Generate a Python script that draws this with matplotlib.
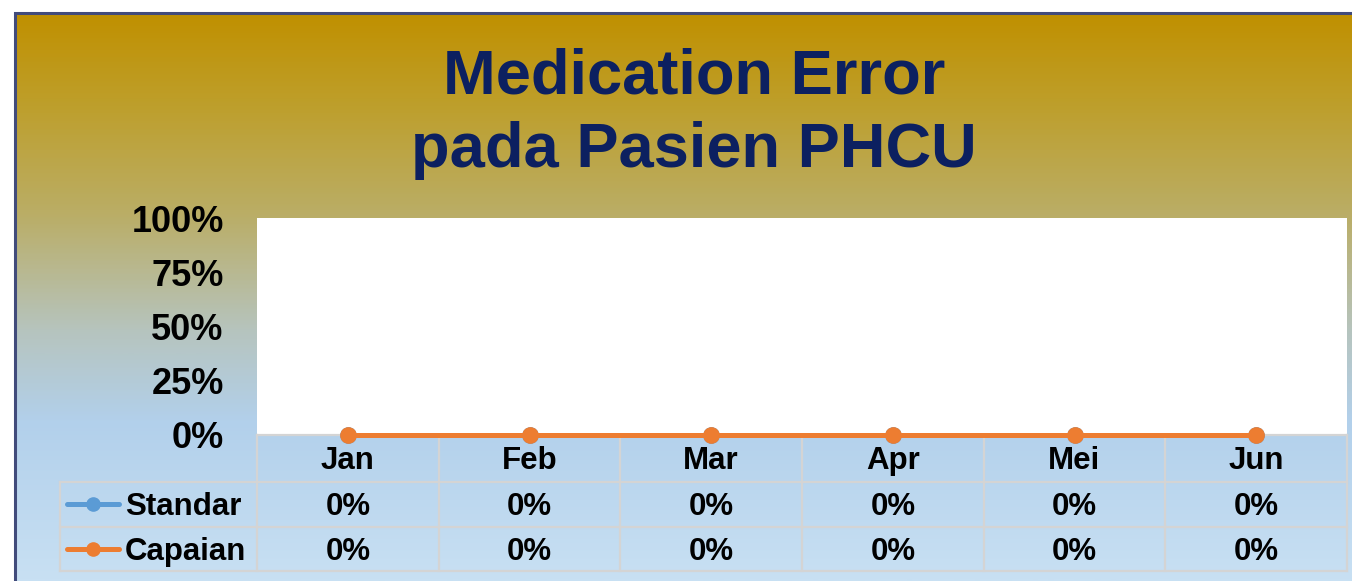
import numpy as np
import matplotlib
matplotlib.use("Agg")
import matplotlib.pyplot as plt
from matplotlib.colors import LinearSegmentedColormap

months = ["Jan", "Feb", "Mar", "Apr", "Mei", "Jun"]
standar = [0, 0, 0, 0, 0, 0]
capaian = [0, 0, 0, 0, 0, 0]
series_names = ["Standar", "Capaian"]
series_colors = ["#5b9bd5", "#ed7d31"]
yticks = [0, 0.25, 0.5, 0.75, 1.0]

FONT = ["Liberation Sans", "DejaVu Sans"]
W, H = 1352, 581

fig = plt.figure(figsize=(W / 100, H / 100), dpi=100, facecolor="white")

# gradient background of the chart frame
bg = fig.add_axes([14 / W, 0, 1 - 14 / W, 1 - 12 / H])
bg.set_axis_off()
stops = [(0.0, (192, 144, 0)), (0.15, (190, 158, 40)), (0.36, (186, 174, 104)),
         (0.56, (182, 196, 190)), (0.72, (178, 208, 235)), (1.0, (200, 224, 243))]
cmap = LinearSegmentedColormap.from_list(
    "bg", [(p, tuple(c / 255 for c in col)) for p, col in stops])
grad = np.linspace(0, 1, 400).reshape(-1, 1)
bg.imshow(grad, aspect="auto", cmap=cmap, extent=[0, 1, 1, 0])
bg.set_xlim(0, 1)
bg.set_ylim(1, 0)

# frame border on the left and top
fig.add_artist(plt.Line2D([15 / W, 15 / W, 1], [0, 1 - 13 / H, 1 - 13 / H],
                          color="#414b7b", lw=2.2, solid_joinstyle="miter"))

# title
fig.text(694 / W, 1 - 93 / H, "Medication Error", ha="center", va="baseline",
         fontsize=45.5, fontweight="bold", color="#0c2060", family=FONT)
fig.text(694 / W, 1 - 167 / H, "pada Pasien PHCU", ha="center", va="baseline",
         fontsize=45.5, fontweight="bold", color="#0c2060", family=FONT)

# plot area
ax = fig.add_axes([257 / W, 1 - 435 / H, 1090 / W, 217 / H])
ax.set_facecolor("white")
x = np.arange(len(months))
ax.plot(x, standar, color=series_colors[0], lw=3.6, marker="o", markersize=11, clip_on=False, zorder=3)
ax.plot(x, capaian, color=series_colors[1], lw=3.6, marker="o", markersize=11, clip_on=False, zorder=4)
ax.set_xlim(-0.5, len(months) - 0.5)
ax.set_ylim(0, 1)
ax.set_yticks(yticks)
ax.set_yticklabels([f"{int(v * 100)}%" for v in yticks], fontsize=26, fontweight="bold", family=FONT)
ax.tick_params(axis="y", length=0, pad=24)
ax.set_xticks([])
for s in ax.spines.values():
    s.set_visible(False)

# data table below the plot
tr = ax.get_xaxis_transform()
px = 6 / 1090  # data units per pixel in x
def yf(py):
    return -(py - 435) / 217

grid = "#d4d4d4"
left_x = -0.5 - 197 * px
for py in [435, 482, 527, 571]:
    x0 = -0.5 if py == 435 else left_x
    ax.plot([x0, 5.5], [yf(py), yf(py)], color=grid, lw=1.6, transform=tr, clip_on=False, zorder=1)
for xv in np.arange(-0.5, 6.0, 1.0):
    ax.plot([xv, xv], [yf(435), yf(571)], color=grid, lw=1.6, transform=tr, clip_on=False, zorder=1)
ax.plot([left_x, left_x], [yf(482), yf(571)], color=grid, lw=1.6, transform=tr, clip_on=False, zorder=1)

txt = dict(fontsize=22.5, fontweight="bold", family=FONT, color="black",
           transform=tr, clip_on=False, va="baseline", ha="center")
for i, m in enumerate(months):
    ax.text(i, yf(469), m, **txt)
for vals, base in [(standar, 515), (capaian, 560)]:
    for i, v in enumerate(vals):
        ax.text(i, yf(base), f"{int(v * 100)}%", **txt)

# legend keys inside the table
for name, col, base, mid in zip(series_names, series_colors, [515, 560], [504, 549]):
    k0 = -0.5 - 190 * px
    k1 = -0.5 - 138 * px
    ax.plot([k0, k1], [yf(mid), yf(mid)], color=col, lw=3.6, transform=tr,
            clip_on=False, solid_capstyle="round")
    ax.plot([-0.5 - 164 * px], [yf(mid)], color=col, marker="o", markersize=9.5,
            transform=tr, clip_on=False)
    ax.text(-0.5 - 132 * px, yf(base), name, fontsize=22.5, fontweight="bold",
            family=FONT, color="black", transform=tr, clip_on=False,
            va="baseline", ha="left")

fig.savefig("out.png", dpi=100, facecolor="white")
